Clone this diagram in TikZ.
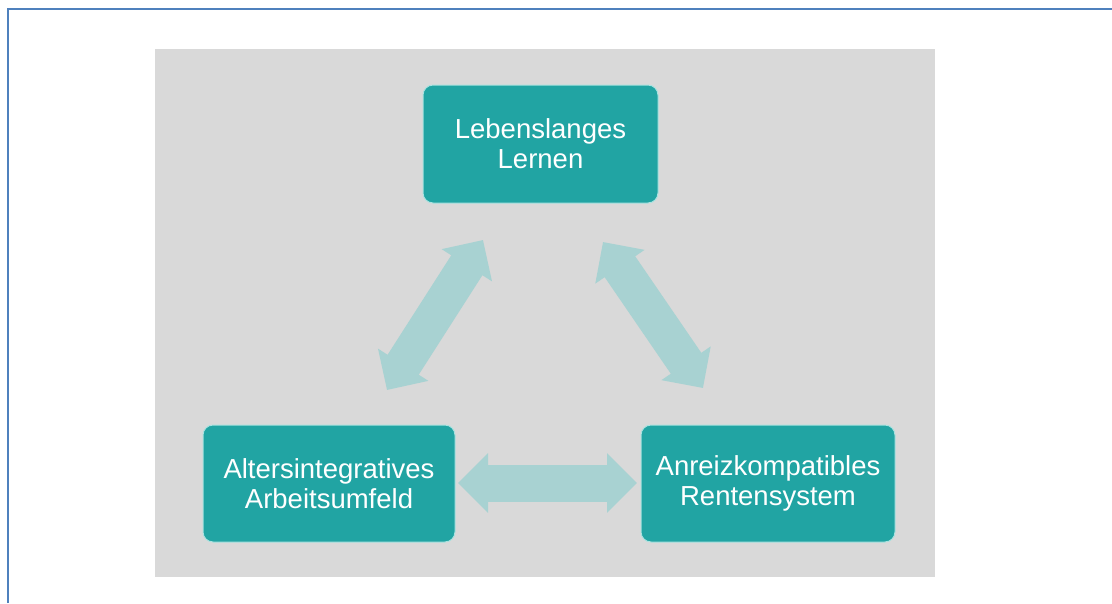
\documentclass[tikz,border=0pt]{standalone}
\usepackage{fontspec}
\setmainfont{Liberation Sans}
\usetikzlibrary{arrows.meta}
\definecolor{frameblue}{RGB}{79,129,189}
\definecolor{bggray}{RGB}{217,217,217}
\definecolor{boxteal}{RGB}{33,164,163}
\definecolor{boxedge}{RGB}{170,226,224}
\definecolor{arrowc}{RGB}{168,210,210}
\tikzset{
  topic/.style={draw=boxedge, line width=1pt, fill=boxteal, rounded corners=10pt,
    text=white, align=center, inner sep=0pt,
    font=\fontsize{27.5}{30}\selectfont},
  linkarrow/.style={draw=arrowc, line width=37pt,
    {Triangle[length=30pt,width=58pt]}-{Triangle[length=30pt,width=58pt]}}
}
\begin{document}
\begin{tikzpicture}[x=1pt,y=-1pt]
\useasboundingbox (0,0) rectangle (1112,603);
\draw[frameblue, line width=2.5pt] (8,603) -- (8,9) -- (1112,9);
\fill[bggray] (155,49) rectangle (935,577);
\node[topic, minimum width=235pt, minimum height=118pt] (lern) at (540.5,144) {Lebenslanges\\Lernen};
\node[topic, minimum width=252pt, minimum height=117pt] (arb) at (329,483.5) {Altersintegratives\\Arbeitsumfeld};
\node[topic, minimum width=254pt, minimum height=117pt] (rent) at (768,483.5) {Anreizkompatibles\\Rentensystem};
\coordinate (a1) at (483,240);
\coordinate (a2) at (387,390);
\coordinate (b1) at (603,242);
\coordinate (b2) at (703,388);
\coordinate (c1) at (458,483);
\coordinate (c2) at (637,483);
\draw[linkarrow] (a1) -- (a2);
\draw[linkarrow] (b1) -- (b2);
\draw[linkarrow] (c1) -- (c2);
\end{tikzpicture}
\end{document}
